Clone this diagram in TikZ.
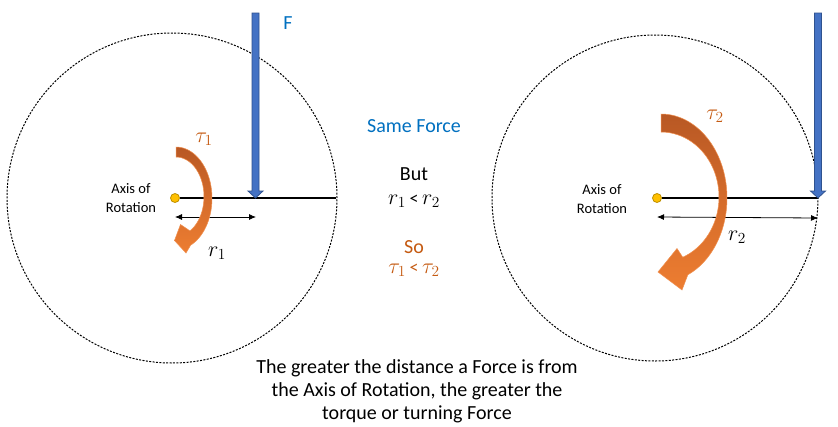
\documentclass[tikz,border=0pt]{standalone}
\usepackage{fix-cm}
\usepackage{fontspec}
\setmainfont{Carlito}
\usetikzlibrary{arrows.meta}
\definecolor{fblue}{HTML}{4472C4}
\definecolor{fblueline}{HTML}{2F528F}
\definecolor{tblue}{HTML}{0070C0}
\definecolor{torange}{HTML}{C55A11}
\definecolor{tdark}{HTML}{B85824}
\definecolor{tlight}{HTML}{ED7D31}
\definecolor{dotfill}{HTML}{FFC000}
\definecolor{dotline}{HTML}{BF9000}
\tikzset{
  wheel/.style={draw=black, line width=1pt, dash pattern=on 2pt off 1.4pt},
  lever/.style={draw=black, line width=1.2pt},
  pivot/.style={circle, fill=dotfill, draw=dotline, line width=0.8pt, minimum size=9pt, inner sep=0pt},
  forcearrow/.style={fill=fblue, draw=fblueline, line width=0.8pt},
  dimline/.style={draw=black, line width=0.8pt, {Latex[length=7pt,width=6pt]}-{Latex[length=7pt,width=6pt]}},
  torquearrow/.style={top color=tdark, bottom color=tlight, middle color=tdark!45!tlight, draw=tlight!85!white, line width=0.5pt},
  bigtext/.style={font=\fontsize{20}{23}\selectfont, inner sep=0pt},
  smalltext/.style={font=\fontsize{14.5}{18.5}\selectfont, align=center, inner sep=0pt},
  mathtext/.style={font=\fontsize{22}{24}\selectfont, inner sep=0pt}
}
\begin{document}
\begin{tikzpicture}[x=1pt,y=-1pt]
\useasboundingbox (0,0) rectangle (838,426);
\fill[white] (0,0) rectangle (838,426);

% ---------- left wheel ----------
\node[circle, wheel, minimum size=330pt, inner sep=0pt] (wL) at (172,198) {};
\node[pivot] (pL) at (175,198) {};
\coordinate (rimL) at (336,198);
\draw[lever] (pL.east) -- (rimL);
% force arrow
\draw[forcearrow] (252,13) -- (259,13) -- (259,191) -- (263,191) -- (255.5,198)
  -- (248,191) -- (252,191) -- cycle;
\node[bigtext, text=tblue] (F) at (288,23) {F};
% distance
\coordinate (dL1) at (175,217);
\coordinate (dL2) at (256,217);
\draw[dimline] (dL1) -- (dL2);
\node[mathtext] (r1) at (217,253) {$r_1$};
% torque arrow
\path[torquearrow]
  plot[domain=-90:66, samples=40, smooth] ({176+36*cos(\x)},{198.3+51.3*sin(\x)})
  -- (186,253) -- (174.5,240.5) -- (180.5,224.5)
  -- plot[domain=60:-90, samples=40, smooth] ({176+28*cos(\x)},{196.6+39.6*sin(\x)})
  -- cycle;
\node[mathtext, text=torange] (t1) at (204,139) {$\tau_1$};
\node[smalltext] (axL) at (131,198) {Axis of\\Rotation};

% ---------- right wheel ----------
\node[circle, wheel, minimum size=326pt, inner sep=0pt] (wR) at (655,198) {};
\node[pivot] (pR) at (657,198) {};
\coordinate (rimR) at (818,198);
\draw[lever] (pR.east) -- (rimR);
\draw[forcearrow] (814.5,13) -- (821.5,13) -- (821.5,191) -- (825.5,191) -- (818,198)
  -- (810.5,191) -- (814.5,191) -- cycle;
\coordinate (dR1) at (657,217);
\coordinate (dR2) at (818,218);
\draw[dimline] (dR1) -- (dR2);
\node[mathtext] (r2) at (737,237) {$r_2$};
\path[torquearrow]
  plot[domain=-90:66, samples=40, smooth] ({661+66*cos(\x)},{198+84*sin(\x)})
  -- (682,290) -- (658,272) -- (677,248.5)
  -- plot[domain=68:-90, samples=40, smooth] ({661+58*cos(\x)},{197+65*sin(\x)})
  -- cycle;
\node[mathtext, text=torange] (t2) at (715,116) {$\tau_2$};
\node[smalltext] (axR) at (602,199) {Axis of\\Rotation};

% ---------- middle text ----------
\node[bigtext, text=tblue] (same) at (414,126) {Same Force};
\node[bigtext] (but) at (414,174) {But};
\node[mathtext] (cmpr) at (414,201) {$r_1$\,{\fontsize{18}{20}\selectfont<}\,$r_2$};
\node[bigtext, text=torange] (so) at (414,247) {So};
\node[mathtext, text=torange] (cmpt) at (414,270) {$\tau_1$\,{\fontsize{18}{20}\selectfont<}\,$\tau_2$};

% ---------- bottom text ----------
\node[bigtext, align=center] (caption) at (417,391) {The greater the distance a Force is from\\the Axis of Rotation, the greater the\\torque or turning Force};
\end{tikzpicture}
\end{document}
